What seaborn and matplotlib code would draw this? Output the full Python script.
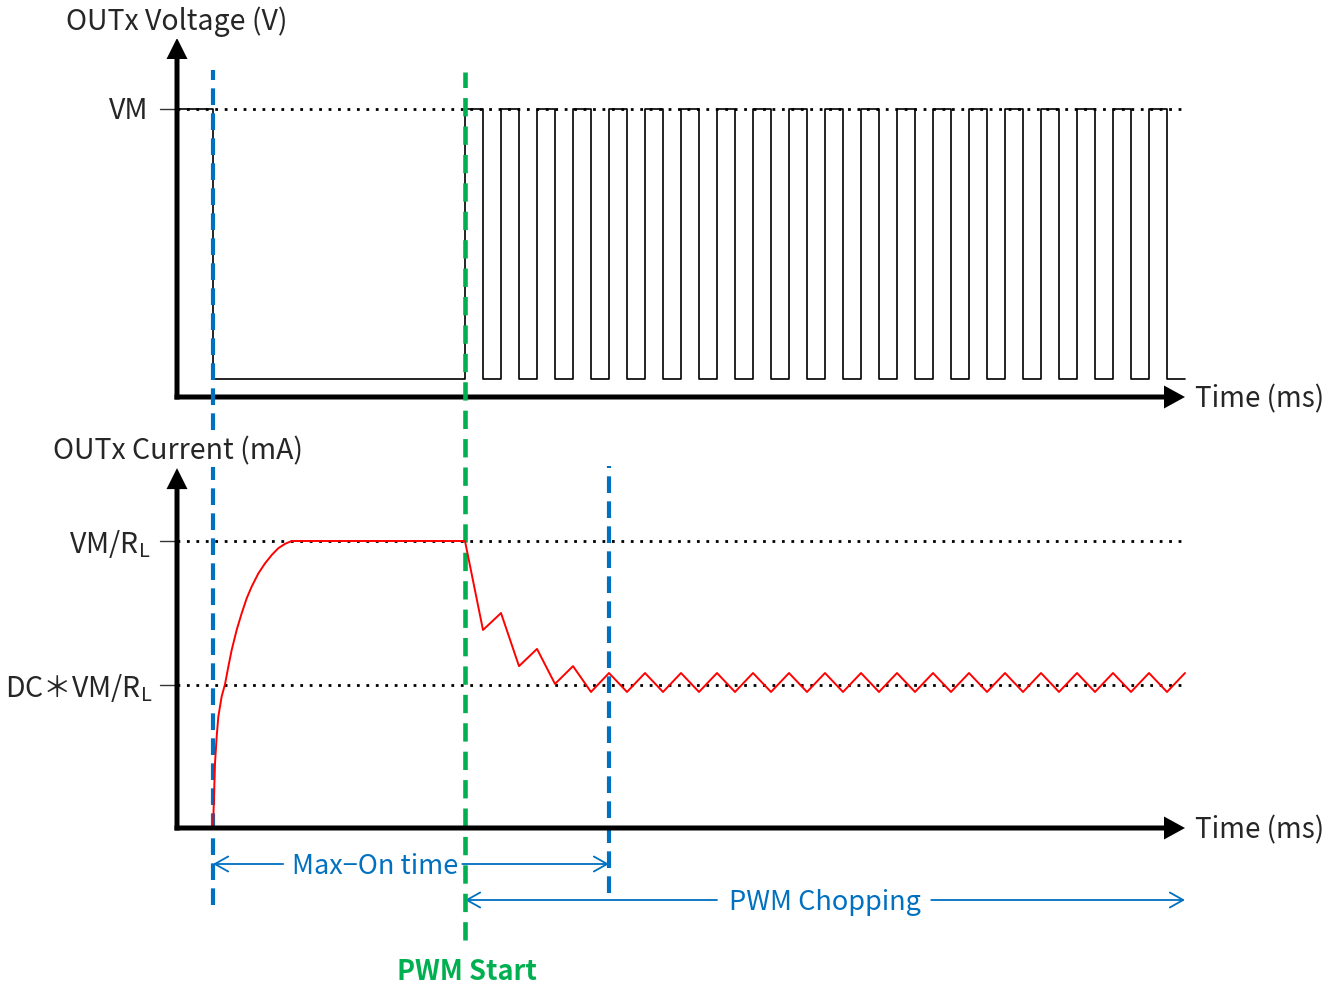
import numpy as np
import pandas as pd
import seaborn as sns
import matplotlib.pyplot as plt

sns.set_theme(style="white")
plt.rcParams['font.family'] = ['Noto Sans CJK JP', 'DejaVu Sans']

# ---------------- data (time in arbitrary ms units) ----------------
MAXON_START = 2.0      # blue marker 1
PWM_START = 16.0       # green marker
MAXON_END = 24.0       # blue marker 2
T_END = 56.0

PWM_RISE = [16, 18, 20, 22, 24, 26, 28, 30, 32, 34, 36, 38, 40, 42, 44, 46, 48, 50, 52, 54]
PWM_FALL = [17, 19, 21, 23, 25, 27, 29, 31, 33, 35, 37, 39, 41, 43, 45, 47, 49, 51, 53, 55]
V_HIGH = 1.0           # VM
V_LOW = 0.0625         # low level (drawn just above axis)

RISE_T = [2.0, 2.056, 2.111, 2.204, 2.296, 2.481, 2.667, 2.852, 3.037, 3.315, 3.593,
          3.870, 4.148, 4.519, 4.889, 5.259, 5.630, 6.0, 6.37]
RISE_I = [0.0, 0.109, 0.225, 0.318, 0.388, 0.458, 0.501, 0.562, 0.620, 0.690, 0.748,
          0.800, 0.841, 0.887, 0.922, 0.951, 0.975, 0.990, 1.0]
CHOP_T = [16, 17, 18, 19, 20, 21, 22, 23, 24, 25, 26, 27, 28, 29, 30, 31, 32, 33, 34, 35,
          36, 37, 38, 39, 40, 41, 42, 43, 44, 45, 46, 47, 48, 49, 50, 51, 52, 53, 54, 55, 56]
CHOP_I = [1.0, 0.690, 0.749, 0.564, 0.624, 0.502, 0.564, 0.474, 0.540, 0.474, 0.540,
          0.474, 0.540, 0.474, 0.540, 0.474, 0.540, 0.474, 0.540, 0.474, 0.540, 0.474,
          0.540, 0.474, 0.540, 0.474, 0.540, 0.474, 0.540, 0.474, 0.540, 0.474, 0.540,
          0.474, 0.540, 0.474, 0.540, 0.474, 0.540, 0.474, 0.540]
I_FULL = 1.0           # VM/RL
I_DC = 0.5             # DC*VM/RL

BLUE = '#0070C0'
GREEN = '#00B050'
RED = '#FF0000'

# voltage waveform polyline
vt = [0, MAXON_START, MAXON_START]
vv = [V_HIGH, V_HIGH, V_LOW]
for r, f in zip(PWM_RISE, PWM_FALL):
    vt += [r, r, f, f]
    vv += [V_LOW, V_HIGH, V_HIGH, V_LOW]
vt.append(T_END)
vv.append(V_LOW)
volt = pd.DataFrame({'t': vt, 'v': vv})
curr = pd.DataFrame({'t': RISE_T + CHOP_T, 'i': RISE_I + CHOP_I})

# ---------------- figure ----------------
W, H = 1336, 984
fig = plt.figure(figsize=(W / 100, H / 100), dpi=100)
ax_v = fig.add_axes([0, 0, 1, 1])
ax_i = fig.add_axes([0, 0, 1, 1])
for ax in (ax_v, ax_i):
    ax.set_axis_off()
    ax.patch.set_alpha(0)
    ax.set_xlim(-177 / 18, (W - 177) / 18)
ax_v.set_ylim((397 - H) / 288, 397 / 288)
ax_i.set_ylim((828 - H) / 287, 828 / 287)

# reference dotted lines and ticks
dot = dict(color='black', lw=2.0, ls=(0, (1, 2.4)), zorder=2)
ax_v.plot([0, T_END - 0.1], [V_HIGH, V_HIGH], **dot)
ax_i.plot([0, T_END - 0.1], [I_FULL, I_FULL], **dot)
ax_i.plot([0, T_END - 0.1], [I_DC, I_DC], **dot)
tick = dict(color='#333333', lw=1.0, zorder=2)
ax_v.plot([-0.95, 0], [V_HIGH, V_HIGH], **tick)
ax_i.plot([-0.95, 0], [I_FULL, I_FULL], **tick)
ax_i.plot([-0.95, 0], [I_DC, I_DC], **tick)

# waveforms
sns.lineplot(data=volt, x='t', y='v', ax=ax_v, sort=False, estimator=None,
             color='black', lw=1.2, zorder=3)
sns.lineplot(data=curr, x='t', y='i', ax=ax_i, sort=False, estimator=None,
             color=RED, lw=1.4, zorder=6)
for ax in (ax_v, ax_i):
    ax.set_axis_off()

# axes arrows
for ax, s, top in ((ax_v, 288, 1.2465), (ax_i, 287, 1.254)):
    ax.arrow(-2.5 / 18, 0, T_END + 2.5 / 18, 0, width=5 / s, head_width=23 / s,
             head_length=21 / 18, length_includes_head=True, fc='black', ec='none', zorder=7)
    ax.arrow(0, -2.5 / s, 0, top + 2.5 / s, width=5 / 18, head_width=21 / 18,
             head_length=21 / s, length_includes_head=True, fc='black', ec='none', zorder=7)

# marker dashed lines (ymin/ymax as figure fraction)
ax_i.axvline(MAXON_START, ymin=1 - 905 / H, ymax=1 - 70 / H, color=BLUE, lw=3.0,
             ls=(0, (4, 2)), zorder=5)
ax_i.axvline(MAXON_END, ymin=1 - 893 / H, ymax=1 - 466 / H, color=BLUE, lw=3.0,
             ls=(0, (4, 2)), zorder=5)
ax_i.axvline(PWM_START, ymin=1 - 940 / H, ymax=1 - 72 / H, color=GREEN, lw=3.3,
             ls=(0, (4, 2.2)), zorder=5)

# span arrows
y1 = (828 - 864) / 287
y2 = (828 - 900) / 287
ap = dict(arrowstyle='->,head_length=0.8,head_width=0.45', color=BLUE, lw=1.3,
          shrinkA=0, shrinkB=0)
ax_i.annotate('', xy=(MAXON_START, y1), xytext=(5.9, y1), arrowprops=ap)
ax_i.annotate('', xy=(MAXON_END, y1), xytext=(15.85, y1), arrowprops=ap)
ax_i.annotate('', xy=(PWM_START, y2), xytext=(30.0, y2), arrowprops=ap)
ax_i.annotate('', xy=(T_END, y2), xytext=(41.9, y2), arrowprops=ap)
ax_i.text(11.0, (828 - 866) / 287, 'Max\u2212On time', color=BLUE, fontsize=19.5,
          ha='center', va='center')
ax_i.text(36.0, (828 - 902) / 287, 'PWM Chopping', color=BLUE, fontsize=19.5,
          ha='center', va='center')
ax_i.text(16.1, (828 - 972) / 287, 'PWM Start', color=GREEN, fontsize=19.5,
          fontweight='bold', ha='center', va='center')

# labels
def P(x, y):
    return x / W, 1 - y / H

fs = 20.5
wbox = dict(facecolor='white', edgecolor='none', pad=1.0)
fig.text(*P(66, 22), 'OUTx Voltage (V)', fontsize=fs, ha='left', va='center',
         bbox=wbox, zorder=10)
fig.text(*P(53, 451), 'OUTx Current (mA)', fontsize=fs, ha='left', va='center',
         bbox=wbox, zorder=10)
fig.text(*P(148, 111), 'VM', fontsize=fs, ha='right', va='center')
fig.text(*P(150, 544), r'VM/R$_\mathregular{L}$', fontsize=fs, ha='right', va='center')
fig.text(*P(152, 688), r'DC＊VM/R$_\mathregular{L}$', fontsize=fs, ha='right', va='center')
fig.text(*P(1195, 399), 'Time (ms)', fontsize=20, ha='left', va='center')
fig.text(*P(1195, 830), 'Time (ms)', fontsize=20, ha='left', va='center')

fig.savefig('out.png', dpi=100)
